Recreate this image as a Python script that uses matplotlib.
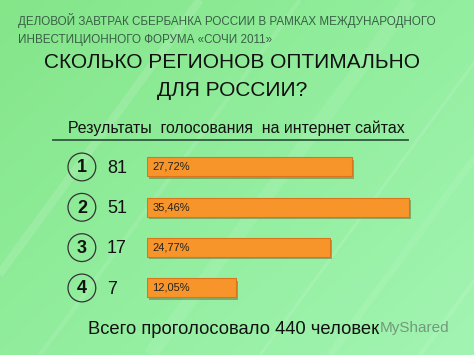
"""
Голосование: сколько регионов оптимально для России.
"""

import numpy as np
import matplotlib
matplotlib.use("Agg")
import matplotlib.pyplot as plt
import matplotlib.patheffects as pe
from matplotlib.colors import LinearSegmentedColormap

# --- Data ---
ranks = ["1", "2", "3", "4"]
regions = ["81", "51", "17", "7"]
percents = [27.72, 35.46, 24.77, 12.05]
pct_labels = ["27,72%", "35,46%", "24,77%", "12,05%"]

# --- Texts ---
header_lines = ["ДЕЛОВОЙ ЗАВТРАК СБЕРБАНКА РОССИИ В РАМКАХ МЕЖДУНАРОДНОГО",
                "ИНВЕСТИЦИОННОГО ФОРУМА «СОЧИ 2011»"]
title_lines = ["СКОЛЬКО РЕГИОНОВ ОПТИМАЛЬНО", "ДЛЯ РОССИИ?"]
subtitle = "Результаты  голосования  на интернет сайтах"
footer = "Всего проголосовало 440 человек"
watermark = "MyShared"

W, H = 474, 355
BAR_COLOR = "#f7952a"
TEXT_DARK = "#111111"
plt.rcParams["font.family"] = ["Liberation Sans", "DejaVu Sans"]

fig = plt.figure(figsize=(W / 100, H / 100), dpi=100)

# --- Background (pixel coordinates) ---
bg = fig.add_axes([0, 0, 1, 1])
bg.set_xlim(0, W)
bg.set_ylim(H, 0)
bg.axis("off")
yy, xx = np.mgrid[0:1:200j, 0:1:200j]
grad = 0.55 * xx + 0.45 * yy
cmap = LinearSegmentedColormap.from_list("bg", ["#84e589", "#92ee9e", "#a2f4b2"])
bg.imshow(grad, cmap=cmap, extent=[0, W, H, 0], aspect="auto", zorder=0)
# faint diagonal streaks
for x0, a, lw in [(-60, 0.12, 6), (40, 0.1, 3), (150, 0.08, 10), (260, 0.12, 2),
                  (330, 0.08, 5), (420, 0.1, 3), (520, 0.07, 8)]:
    bg.plot([x0, x0 + 260], [H, 0], color="white", alpha=a, lw=lw,
            solid_capstyle="butt", zorder=1)

bg.text(18, 21, header_lines[0], fontsize=8.4, color="#3a5f47", va="center")
bg.text(18, 40, header_lines[1], fontsize=8.4, color="#3a5f47", va="center")
bg.text(232, 63, title_lines[0], fontsize=15, color=TEXT_DARK, ha="center", va="center")
bg.text(232, 90, title_lines[1], fontsize=15, color=TEXT_DARK, ha="center", va="center")
bg.text(236, 128, subtitle, fontsize=11.4, color=TEXT_DARK, ha="center", va="center")
bg.plot([53, 408], [140, 140], color="#2f5a3c", lw=1.3)
bg.text(88, 329, footer, fontsize=13.2, color=TEXT_DARK, va="center")
bg.text(380, 328, watermark, fontsize=11, color="#6f8f78", va="center", alpha=0.9)

# --- Bars (percent units) ---
ax = fig.add_axes([147 / W, 0.132, 296 / W, 0.4545])
ax.patch.set_alpha(0)
ypos = np.arange(len(percents))
ax.barh(ypos, percents, height=0.47, color=BAR_COLOR, edgecolor="#d9761a",
        linewidth=0.8,
        path_effects=[pe.SimplePatchShadow(offset=(1.5, -1.5), alpha=0.35),
                      pe.Normal()])
ax.set_xlim(0, 40)
ax.set_ylim(3.5, -0.5)
ax.axis("off")

for y, lab in zip(ypos, pct_labels):
    ax.text(0.7, y, lab, fontsize=8, color="#222222", va="center")
for y, n in zip(ypos, regions):
    ax.text(-5.4, y + 0.03, n, fontsize=13, color=TEXT_DARK, va="center")
ax.scatter(np.full(len(ypos), -8.8), ypos, s=400, facecolor="none",
           edgecolor="#333333", linewidth=0.9, clip_on=False)
for y, r in zip(ypos, ranks):
    ax.text(-8.8, y + 0.02, r, fontsize=13, fontweight="bold", color=TEXT_DARK,
            ha="center", va="center")

fig.savefig("out.png", dpi=100)
